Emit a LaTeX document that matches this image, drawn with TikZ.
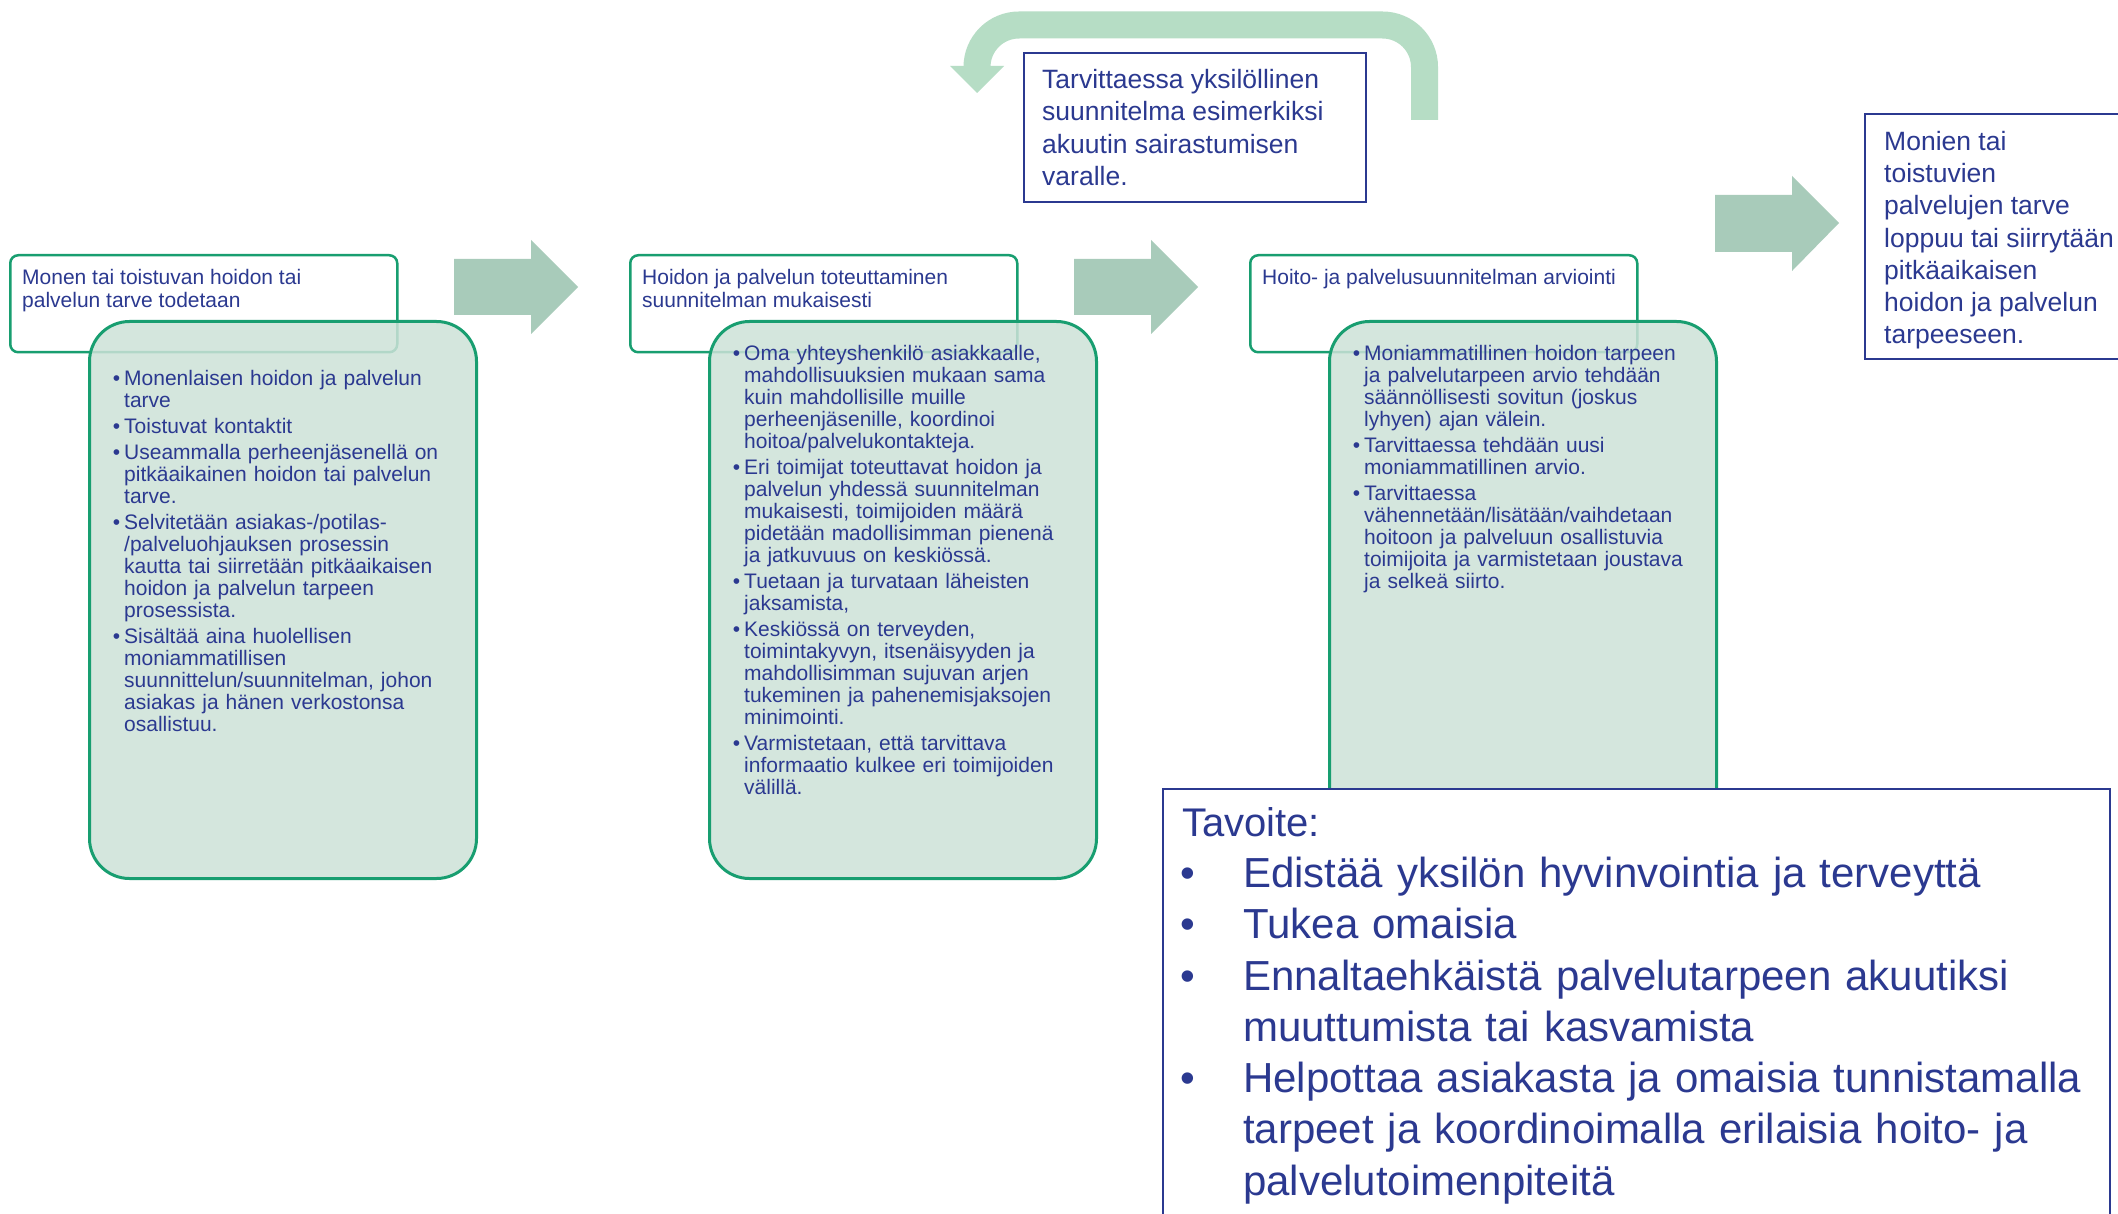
\documentclass[tikz,border=0pt]{standalone}
\usepackage{fontspec}
\setmainfont{Liberation Sans}
\definecolor{navy}{RGB}{43,57,144}
\definecolor{gborder}{RGB}{24,158,112}
\definecolor{gfill}{RGB}{205,226,216}
\definecolor{barrow}{RGB}{168,203,186}
\definecolor{uarrow}{RGB}{182,221,197}
\newcommand\bpt[1]{\par\noindent\llap{\textbullet\hspace{4pt}}#1\par}
\newcommand\tpt[1]{\par\noindent\llap{\textbullet\hspace{48pt}}#1\par}
\begin{document}
\begin{tikzpicture}[x=1pt,y=-1pt,
  hdr/.style={draw=gborder, line width=2.5pt, fill=white, rounded corners=8pt, anchor=north west, inner sep=0pt},
  gbox/.style={draw=gborder, line width=3pt, fill=gfill, fill opacity=0.85, rounded corners=40pt, anchor=north west, inner sep=0pt},
  bbox/.style={draw=navy, line width=2pt, fill=white, anchor=north west, inner sep=0pt},
  txt/.style={anchor=north west, inner sep=0pt, text=navy, align=left},
  sm/.style={font=\fontsize{21}{22}\selectfont},
  hd/.style={font=\fontsize{21}{23}\selectfont},
  md/.style={font=\fontsize{26.5}{32.5}\selectfont},
  blockarrow/.style={fill=barrow}
]
\clip (0,0) rectangle (2118,1214);
\fill[white] (0,0) rectangle (2118,1214);

% U-turn arrow
\draw[uarrow, line width=27pt, rounded corners=42pt] (1424.5,120) -- (1424.5,25) -- (977,25) -- (977,67);
\fill[uarrow] (950,66) -- (1004,66) -- (977,93) -- cycle;

% top box
\node[bbox, minimum width=342pt, minimum height=149pt] (topbox) at (1023,52) {};
\node[txt, md] (toptext) at (1042,69) {Tarvittaessa yksilöllinen\\suunnitelma esimerkiksi\\akuutin sairastumisen\\varalle.};

% headers
\node[hdr, minimum width=387pt, minimum height=97pt] (h1) at (9,254) {};
\node[hdr, minimum width=387pt, minimum height=97pt] (h2) at (629,254) {};
\node[hdr, minimum width=387pt, minimum height=97pt] (h3) at (1249,254) {};
\node[txt, hd] (h1t) at (22,269) {Monen tai toistuvan hoidon tai\\palvelun tarve todetaan};
\node[txt, hd] (h2t) at (642,269) {Hoidon ja palvelun toteuttaminen\\suunnitelman mukaisesti};
\node[txt, hd] (h3t) at (1262,269) {Hoito- ja palvelusuunnitelman arviointi};

% green boxes
\node[gbox, minimum width=387pt, minimum height=557pt] (g1) at (88,320) {};
\node[gbox, minimum width=387pt, minimum height=557pt] (g2) at (708,320) {};
\node[gbox, minimum width=387pt, minimum height=520pt] (g3) at (1328,320) {};

% block arrows
\fill[blockarrow] (454,259) -- (531,259) -- (531,240) -- (578,287) -- (531,334) -- (531,315) -- (454,315) -- cycle;
\fill[blockarrow] (1074,259) -- (1151,259) -- (1151,240) -- (1198,287) -- (1151,334) -- (1151,315) -- (1074,315) -- cycle;
\fill[blockarrow] (1715,195) -- (1792,195) -- (1792,176) -- (1839,223) -- (1792,271) -- (1792,252) -- (1715,252) -- cycle;

% bullet texts
\node[txt, sm, text width=360pt] (g1t) at (113,359.5) {\leftskip=11pt\parskip=4pt
\bpt{Monenlaisen hoidon ja palvelun\newline tarve}
\bpt{Toistuvat kontaktit}
\bpt{Useammalla perheenjäsenellä on\newline pitkäaikainen hoidon tai palvelun\newline tarve.}
\bpt{Selvitetään asiakas-/potilas-\newline /palveluohjauksen prosessin\newline kautta tai siirretään pitkäaikaisen\newline hoidon ja palvelun tarpeen\newline prosessista.}
\bpt{Sisältää aina huolellisen\newline moniammatillisen\newline suunnittelun/suunnitelman, johon\newline asiakas ja hänen verkostonsa\newline osallistuu.}};

\node[txt, sm, text width=360pt] (g2t) at (733,334) {\leftskip=11pt\parskip=4pt
\bpt{Oma yhteyshenkilö asiakkaalle,\newline mahdollisuuksien mukaan sama\newline kuin mahdollisille muille\newline perheenjäsenille, koordinoi\newline hoitoa/palvelukontakteja.}
\bpt{Eri toimijat toteuttavat hoidon ja\newline palvelun yhdessä suunnitelman\newline mukaisesti, toimijoiden määrä\newline pidetään madollisimman pienenä\newline ja jatkuvuus on keskiössä.}
\bpt{Tuetaan ja turvataan läheisten\newline jaksamista,}
\bpt{Keskiössä on terveyden,\newline toimintakyvyn, itsenäisyyden ja\newline mahdollisimman sujuvan arjen\newline tukeminen ja pahenemisjaksojen\newline minimointi.}
\bpt{Varmistetaan, että tarvittava\newline informaatio kulkee eri toimijoiden\newline välillä.}};

\node[txt, sm, text width=360pt] (g3t) at (1353,334) {\leftskip=11pt\parskip=4pt
\bpt{Moniammatillinen hoidon tarpeen\newline ja palvelutarpeen arvio tehdään\newline säännöllisesti sovitun (joskus\newline lyhyen) ajan välein.}
\bpt{Tarvittaessa tehdään uusi\newline moniammatillinen arvio.}
\bpt{Tarvittaessa\newline vähennetään/lisätään/vaihdetaan\newline hoitoon ja palveluun osallistuvia\newline toimijoita ja varmistetaan joustava\newline ja selkeä siirto.}};

% final box
\node[bbox, minimum width=270pt, minimum height=245pt] (endbox) at (1864,113) {};
\node[txt, font=\fontsize{26.5}{32.2}\selectfont] (endtext) at (1884,131) {Monien tai\\toistuvien\\palvelujen tarve\\loppuu tai siirrytään\\pitkäaikaisen\\hoidon ja palvelun\\tarpeeseen.};

% Tavoite box
\node[bbox, minimum width=947pt, minimum height=450pt] (goalbox) at (1162,788) {};
\node[txt, font=\fontsize{42}{51.3}\selectfont, text width=1000pt] (goaltext) at (1182,807) {{\fontsize{40}{51.3}\selectfont Tavoite:}\par
\leftskip=61pt\parskip=0pt
\tpt{Edistää yksilön hyvinvointia ja terveyttä}
\tpt{Tukea omaisia}
\tpt{Ennaltaehkäistä palvelutarpeen akuutiksi\newline muuttumista tai kasvamista}
\tpt{Helpottaa asiakasta ja omaisia tunnistamalla\newline tarpeet ja koordinoimalla erilaisia hoito- ja\newline palvelutoimenpiteitä}};
\end{tikzpicture}
\end{document}
